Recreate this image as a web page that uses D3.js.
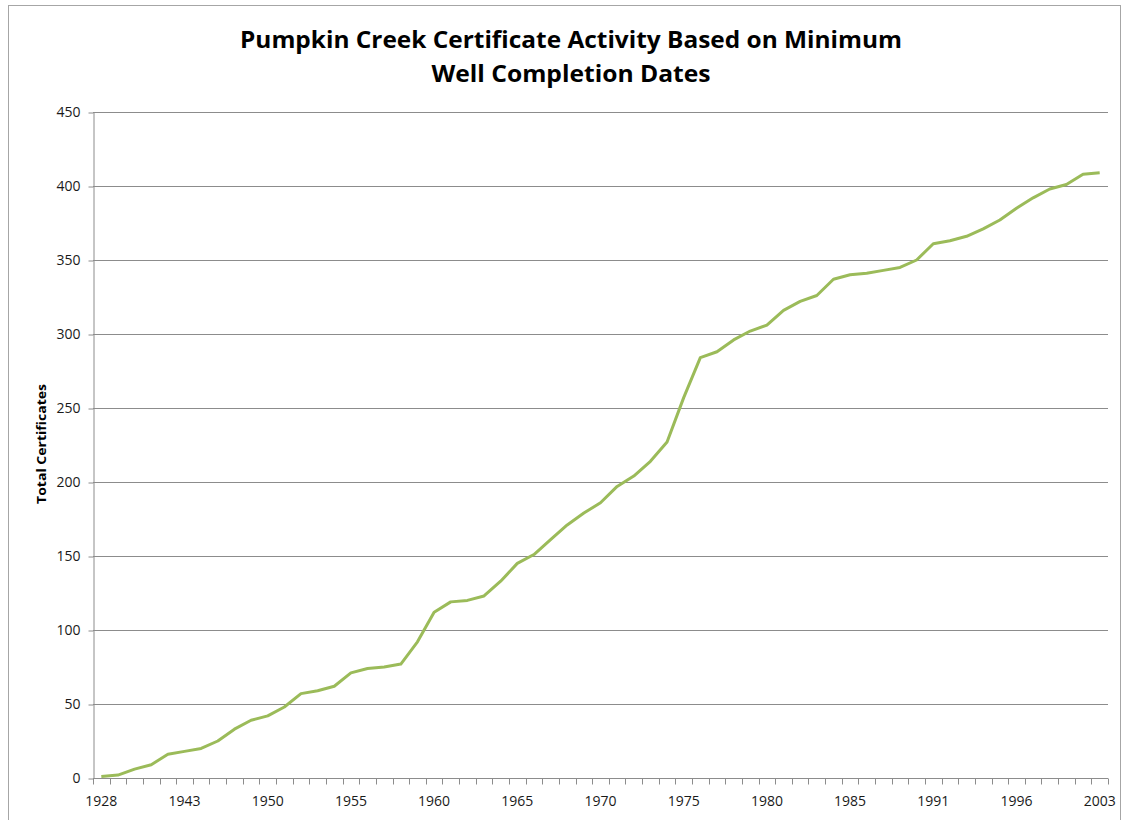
<!DOCTYPE html>
<html>
<head>
<meta charset="utf-8">
<script src="https://cdn.jsdelivr.net/npm/d3@7"></script>
<style>
  body { margin: 0; background: #fff; }
  svg { display: block; }
</style>
</head>
<body>
<div id="chart"></div>
<script>
// Years that appear on the category axis (only years with activity)
let years = [1928, 1930, 1935, 1937, 1940, 1943, 1945, 1946, 1947, 1949,
    1950, 1951, 1952, 1953, 1954, 1955, 1956, 1957, 1958, 1959,
    1960, 1961, 1962, 1963, 1964, 1965, 1966, 1967, 1968, 1969,
    1970, 1971, 1972, 1973, 1974, 1975, 1976, 1977, 1978, 1979,
    1980, 1981, 1982, 1983, 1984, 1985, 1986, 1987, 1988, 1990,
    1991, 1992, 1993, 1994, 1995, 1996, 1997, 1998, 1999, 2001, 2003]

// cumulative certificates
let totals = [1, 2, 6, 9, 16, 18, 20, 25, 33, 39,
    42, 48, 57, 59, 62, 71, 74, 75, 77, 92,
    112, 119, 120, 123, 133, 145, 151, 161, 171, 179,
    186, 197, 204, 214, 227, 257, 284, 288, 296, 302,
    306, 316, 322, 326, 337, 340, 341, 343, 345, 350,
    361, 363, 366, 371, 377, 385, 392, 398, 401, 408, 409]

let yTicks = [0, 50, 100, 150, 200, 250, 300, 350, 400, 450]
let titleLines = ["Pumpkin Creek Certificate Activity Based on Minimum", "Well Completion Dates"]

let data = years.map(function(y, i) { return {year: y, value: totals[i]} })

document.addEventListener('DOMContentLoaded', function() {
    drawChart()
})

function drawChart() {
    var width = 1127, height = 820
    var left = 93, right = 1108, top = 112, bottom = 778

    var svg = d3.select("#chart").append("svg")
        .attr("width", width)
        .attr("height", height)

    // chart area border
    svg.append("rect")
        .attr("x", 8.5).attr("y", 5.5)
        .attr("width", 1112).attr("height", 830)
        .attr("fill", "none")
        .attr("stroke", "#a6a6a6")

    var x = d3.scaleBand()
        .domain(years)
        .range([left, right])
    var y = d3.scaleLinear()
        .domain([0, 450])
        .range([bottom, top])

    // gridlines
    svg.append("g")
        .selectAll("line")
        .data(yTicks.filter(function(d) { return d > 0 }))
        .enter()
        .append("line")
            .attr("x1", left).attr("x2", right)
            .attr("y1", function(d) { return Math.round(y(d)) + 0.5 })
            .attr("y2", function(d) { return Math.round(y(d)) + 0.5 })
            .attr("stroke", "#8c8c8c")
            .attr("stroke-width", 1)

    // y axis
    var yAxis = svg.append("g")
        .attr("transform", "translate(" + (left + 0.5) + ",0.5)")
        .call(d3.axisLeft(y).tickValues(yTicks).tickSize(5).tickSizeOuter(0).tickPadding(8))
    yAxis.select(".domain").attr("stroke", "#8c8c8c")
    yAxis.selectAll(".tick line").attr("stroke", "#8c8c8c")
    yAxis.selectAll("text")
        .style("font-family", "'Open Sans', sans-serif")
        .style("font-size", "14px")
        .attr("fill", "#1a1a1a")

    // x axis: ticks between categories, labels every 5th
    var xAxis = svg.append("g")
        .attr("transform", "translate(0," + (bottom + 0.5) + ")")
    xAxis.append("line")
        .attr("x1", left).attr("x2", right)
        .attr("stroke", "#8c8c8c")
    var bounds = years.map(function(d) { return x(d) }).concat([right])
    xAxis.selectAll(".tk")
        .data(bounds)
        .enter()
        .append("line")
            .attr("class", "tk")
            .attr("x1", function(d) { return Math.round(d) + 0.5 })
            .attr("x2", function(d) { return Math.round(d) + 0.5 })
            .attr("y1", 0).attr("y2", 6)
            .attr("stroke", "#8c8c8c")
    xAxis.selectAll(".lbl")
        .data(years.filter(function(d, i) { return i % 5 == 0 }))
        .enter()
        .append("text")
            .attr("class", "lbl")
            .attr("x", function(d) { return x(d) + x.bandwidth() / 2 })
            .attr("y", 27)
            .attr("text-anchor", "middle")
            .style("font-family", "'Open Sans', sans-serif")
            .style("font-size", "14px")
            .attr("fill", "#1a1a1a")
            .text(function(d) { return d })

    // line
    svg.append("path")
        .datum(data)
        .attr("fill", "none")
        .attr("stroke", "#9bbb59")
        .attr("stroke-width", 3)
        .attr("stroke-linejoin", "round")
        .attr("d", d3.line()
            .x(function(d) { return x(d.year) + x.bandwidth() / 2 })
            .y(function(d) { return y(d.value) }))

    //Title
    svg.append("text")
        .attr("x", 571).attr("y", 48)
        .attr("text-anchor", "middle")
        .attr("textLength", 662)
        .attr("lengthAdjust", "spacingAndGlyphs")
        .style("font-family", "'Open Sans', sans-serif")
        .style("font-weight", "bold")
        .style("font-size", "23px")
        .text(titleLines[0])
    svg.append("text")
        .attr("x", 571).attr("y", 82)
        .attr("text-anchor", "middle")
        .attr("textLength", 279)
        .attr("lengthAdjust", "spacingAndGlyphs")
        .style("font-family", "'Open Sans', sans-serif")
        .style("font-weight", "bold")
        .style("font-size", "23px")
        .text(titleLines[1])

    // y axis title
    svg.append("text")
        .attr("transform", "translate(46,444) rotate(-90)")
        .attr("text-anchor", "middle")
        .attr("textLength", 120)
        .attr("lengthAdjust", "spacingAndGlyphs")
        .style("font-family", "'Open Sans', sans-serif")
        .style("font-weight", "bold")
        .style("font-size", "12px")
        .text("Total Certificates")
}
</script>
</body>
</html>
